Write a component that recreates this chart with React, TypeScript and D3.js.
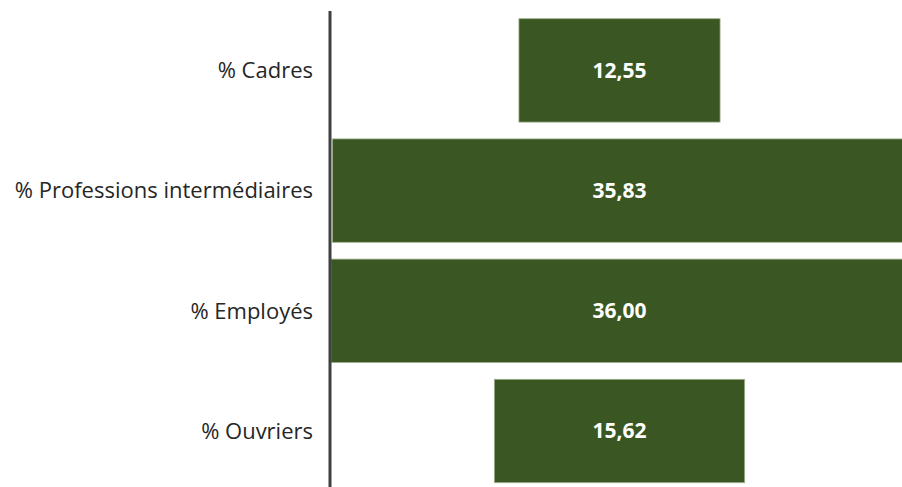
import React, { useEffect, useRef } from 'react';
import * as d3 from 'd3';

const categories = ['% Cadres', '% Professions intermédiaires', '% Employés', '% Ouvriers'];
const values = [12.55, 35.83, 36.0, 15.62];

const width = 902;
const height = 487;
const axisX = 331;
const barColor = '#3A5723';

const App: React.FC = () => {
  const ref = useRef<SVGSVGElement | null>(null);

  useEffect(() => {
    if (!ref.current) return;
    const svg = d3.select(ref.current);
    svg.selectAll('*').remove();

    const data = categories.map((c, i) => ({ cat: c, value: values[i] }));

    // bars are centred on 0, so the axis covers -max/2 .. max/2
    const x = d3.scaleLinear().domain([-18, 18]).range([axisX, 908]);

    const y = d3.scaleBand<string>()
      .domain(categories)
      .range([10.3, 491.1])
      .paddingInner(0.14)
      .paddingOuter(0.07);

    svg.append('g')
      .selectAll('rect')
      .data(data)
      .join('rect')
        .attr('x', d => x(-d.value / 2))
        .attr('y', d => y(d.cat)!)
        .attr('width', d => x(d.value / 2) - x(-d.value / 2))
        .attr('height', y.bandwidth())
        .attr('fill', barColor)
        .attr('stroke', '#9fb08c')
        .attr('stroke-width', 0.8);

    svg.append('g')
      .selectAll('text')
      .data(data)
      .join('text')
        .attr('x', x(0))
        .attr('y', d => y(d.cat)! + y.bandwidth() / 2)
        .attr('dy', '0.35em')
        .attr('text-anchor', 'middle')
        .attr('fill', '#ffffff')
        .style('font-family', '"Open Sans", sans-serif')
        .style('font-weight', 'bold')
        .style('font-size', '21px')
        .text(d => d.value.toFixed(2).replace('.', ','));

    svg.append('g')
      .selectAll('text')
      .data(data)
      .join('text')
        .attr('x', axisX - 18)
        .attr('y', d => y(d.cat)! + y.bandwidth() / 2)
        .attr('dy', '0.35em')
        .attr('text-anchor', 'end')
        .attr('fill', '#262626')
        .style('font-family', '"Open Sans", sans-serif')
        .style('font-size', '22px')
        .text(d => d.cat);

    svg.append('line')
      .attr('x1', axisX - 1)
      .attr('x2', axisX - 1)
      .attr('y1', 11)
      .attr('y2', height)
      .attr('stroke', '#404040')
      .attr('stroke-width', 3);
  }, []);

  return (
    <svg
      ref={ref}
      width={width}
      height={height}
      style={{ position: 'absolute', left: 0, top: 0, background: '#ffffff' }}
    />
  );
};

export default App;
